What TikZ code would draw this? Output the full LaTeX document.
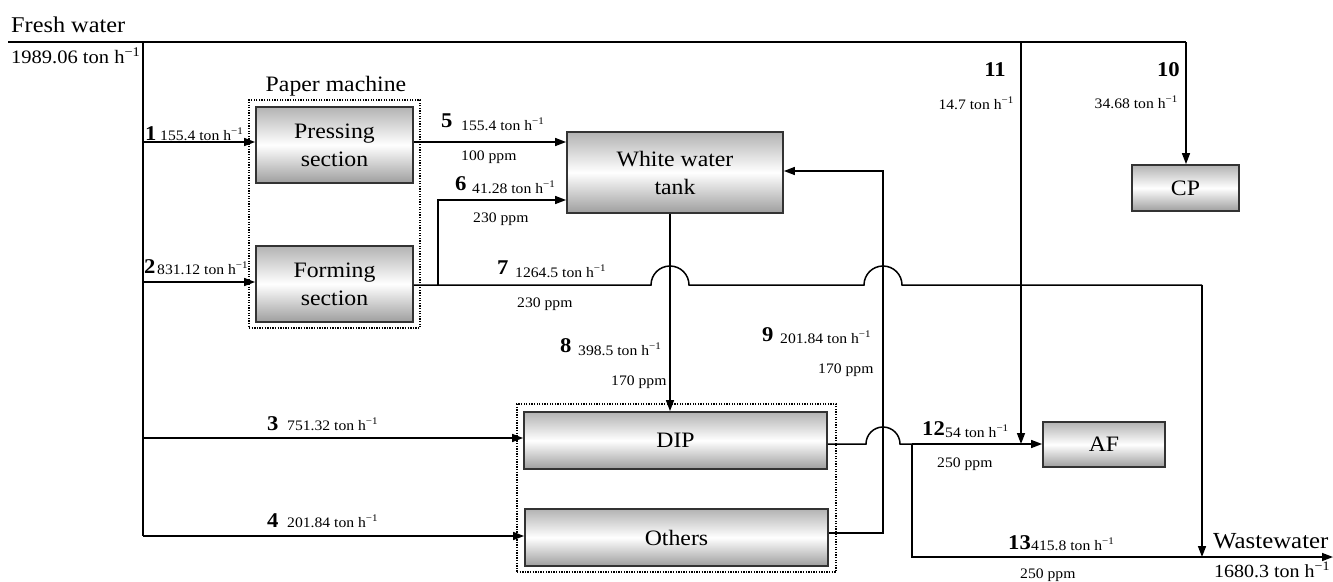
\documentclass[tikz,border=0pt]{standalone}
\usepackage{fontspec}
\setmainfont{Liberation Serif}[FakeStretch=1.08]
\usetikzlibrary{arrows.meta}
\newcommand\fsz[2]{\fontsize{#1}{#2}\selectfont}
\newcommand\tph{ton h\textsuperscript{−1}}
\begin{document}
\begin{tikzpicture}[x=1pt,y=1pt,
  box/.style={draw=black!80, line width=1.8pt, shading=axis, top color=black!30, bottom color=black!38, middle color=white, inner sep=0pt, align=center, font=\fsz{22}{28}},
  dotbox/.style={draw, line width=1.2pt, dash pattern=on 1.3pt off 1.3pt, inner sep=0pt},
  ln/.style={line width=1.5pt},
  arr/.style={ln, -{Triangle[length=11pt,width=8pt]}},
  bnum/.style={font=\fsz{21}{21}\bfseries, inner sep=0pt},
  flow/.style={font=\fsz{14.5}{15}, inner sep=0pt},
  big/.style={font=\fsz{22.5}{24}, inner sep=0pt}
]
\useasboundingbox (0,0) rectangle (1333,-581);

% groups
\node[dotbox, minimum width=171pt, minimum height=228pt] (pm) at (334.5,-214) {};
\node[dotbox, minimum width=319pt, minimum height=168pt] (grp) at (676.5,-488) {};

% boxes
\node[box, minimum width=157pt, minimum height=76pt] (press) at (334.5,-145) {Pressing\\section};
\node[box, minimum width=157pt, minimum height=76pt] (form) at (334.5,-284) {Forming\\section};
\node[box, minimum width=216pt, minimum height=81pt] (tank) at (675,-172.5) {White water\\tank};
\node[box, minimum width=107pt, minimum height=46pt] (cp) at (1185.5,-188) {CP};
\node[box, minimum width=303pt, minimum height=57pt] (dip) at (675.5,-440.5) {DIP};
\node[box, minimum width=303pt, minimum height=57pt] (oth) at (676.5,-537.5) {Others};
\node[box, minimum width=122pt, minimum height=45pt] (af) at (1104,-444.5) {AF};

% coordinates
\coordinate (fw) at (8,-42);
\coordinate (L) at (143,-42);
\coordinate (t11) at (1021,-42);
\coordinate (t10) at (1186,-42);
\coordinate (j1) at (143,-142);
\coordinate (j2) at (143,-282);
\coordinate (j3) at (143,-438);
\coordinate (j4) at (143,-536);
\coordinate (o5) at (0,-142);
\coordinate (o7) at (0,-285);
\coordinate (c6) at (438,-285);
\coordinate (c6t) at (438,-200);
\coordinate (c8) at (670,0);
\coordinate (c9) at (883,-533);
\coordinate (c9t) at (883,-171);
\coordinate (d12) at (912,-444);
\coordinate (b13) at (912,-557);
\coordinate (w7) at (1202,-285);
\coordinate (w7b) at (1202,-557);
\coordinate (ww) at (1333,-557);

% fresh water header
\draw[ln] (fw) -- (t10);
\draw[arr] (t10) -- (t10 |- cp.north);
\draw[ln] (L) -- (j4);
\draw[arr] (j1) -- (j1 -| press.west);
\draw[arr] (j2) -- (j2 -| form.west);
\draw[arr] (j3) -- (j3 -| dip.west);
\draw[arr] (j4) -- (j4 -| oth.west);
\draw[arr] (t11) -- (t11 |- d12);

% stream 5
\draw[arr] (o5 -| press.east) -- (o5 -| tank.west);
% stream 7 with humps
\draw[ln] (o7 -| form.east) -- (651,-285) arc[start angle=180, end angle=0, radius=19pt]
  -- (864,-285) arc[start angle=180, end angle=0, radius=19pt] -- (w7);
\draw[arr] (w7) -- (w7b);
% stream 6
\draw[arr] (c6) -- (c6t) -- (c6t -| tank.west);
% stream 8
\draw[arr] (c8 |- tank.south) -- (c8 |- dip.north);
% stream 9
\draw[arr] (c9 -| oth.east) -- (c9) -- (c9t) -- (c9t -| tank.east);
% DIP outflow, 12, 13
\draw[ln] (d12 -| dip.east) -- (866,-444) arc[start angle=180, end angle=0, radius=17pt] -- (d12);
\draw[arr] (d12) -- (d12 -| af.west);
\draw[arr] (d12) -- (b13) -- (ww);

% texts
\node[big, anchor=base west] (tfw) at (11,-32) {Fresh water};
\node[flow, font=\fsz{19}{20}, anchor=base west] (tfwq) at (11,-63) {1989.06 \tph};
\node[big, font=\fsz{22}{24}, anchor=base] (tpm) at (336,-91) {Paper machine};
\node[big, font=\fsz{23}{24}, anchor=base west] (tww) at (1213,-548) {Wastewater};
\node[flow, font=\fsz{18.5}{20}, anchor=base west] (twwq) at (1214,-577) {1680.3 \tph};

\node[bnum, anchor=base west] (n1) at (145,-140) {1};
\node[flow, anchor=base west] (f1) at (160,-140) {155.4 \tph};
\node[bnum, anchor=base west] (n2) at (144,-273) {2};
\node[flow, anchor=base west] (f2) at (157,-274) {831.12 \tph};
\node[bnum, anchor=base west] (n3) at (267,-430) {3};
\node[flow, anchor=base west] (f3) at (287,-430) {751.32 \tph};
\node[bnum, anchor=base west] (n4) at (267,-527) {4};
\node[flow, anchor=base west] (f4) at (287,-527) {201.84 \tph};
\node[bnum, anchor=base west] (n5) at (441,-127) {5};
\node[flow, anchor=base west] (f5) at (461,-130) {155.4 \tph};
\node[flow, anchor=base west] (p5) at (461,-160) {100 ppm};
\node[bnum, anchor=base west] (n6) at (455,-190) {6};
\node[flow, anchor=base west] (f6) at (472,-193) {41.28 \tph};
\node[flow, anchor=base west] (p6) at (473,-222) {230 ppm};
\node[bnum, anchor=base west] (n7) at (497,-274) {7};
\node[flow, anchor=base west] (f7) at (515,-277) {1264.5 \tph};
\node[flow, anchor=base west] (p7) at (517,-307) {230 ppm};
\node[bnum, anchor=base west] (n8) at (560,-352) {8};
\node[flow, anchor=base west] (f8) at (578,-355) {398.5 \tph};
\node[flow, anchor=base west] (p8) at (611,-385) {170 ppm};
\node[bnum, anchor=base west] (n9) at (762,-341) {9};
\node[flow, anchor=base west] (f9) at (780,-343) {201.84 \tph};
\node[flow, anchor=base west] (p9) at (818,-373) {170 ppm};
\node[bnum, anchor=base east] (n10) at (1180,-76) {10};
\node[flow, anchor=base east] (f10) at (1178,-108) {34.68 \tph};
\node[bnum, anchor=base east] (n11) at (1006,-76) {11};
\node[flow, anchor=base east] (f11) at (1014,-109) {14.7 \tph};
\node[bnum, anchor=base west] (n12) at (922,-435) {12};
\node[flow, anchor=base west] (f12) at (945,-437) {54 \tph};
\node[flow, anchor=base west] (p12) at (937,-467) {250 ppm};
\node[bnum, anchor=base west] (n13) at (1008,-549) {13};
\node[flow, anchor=base west] (f13) at (1031,-550) {415.8 \tph};
\node[flow, anchor=base west] (p13) at (1020,-578) {250 ppm};
\end{tikzpicture}
\end{document}
